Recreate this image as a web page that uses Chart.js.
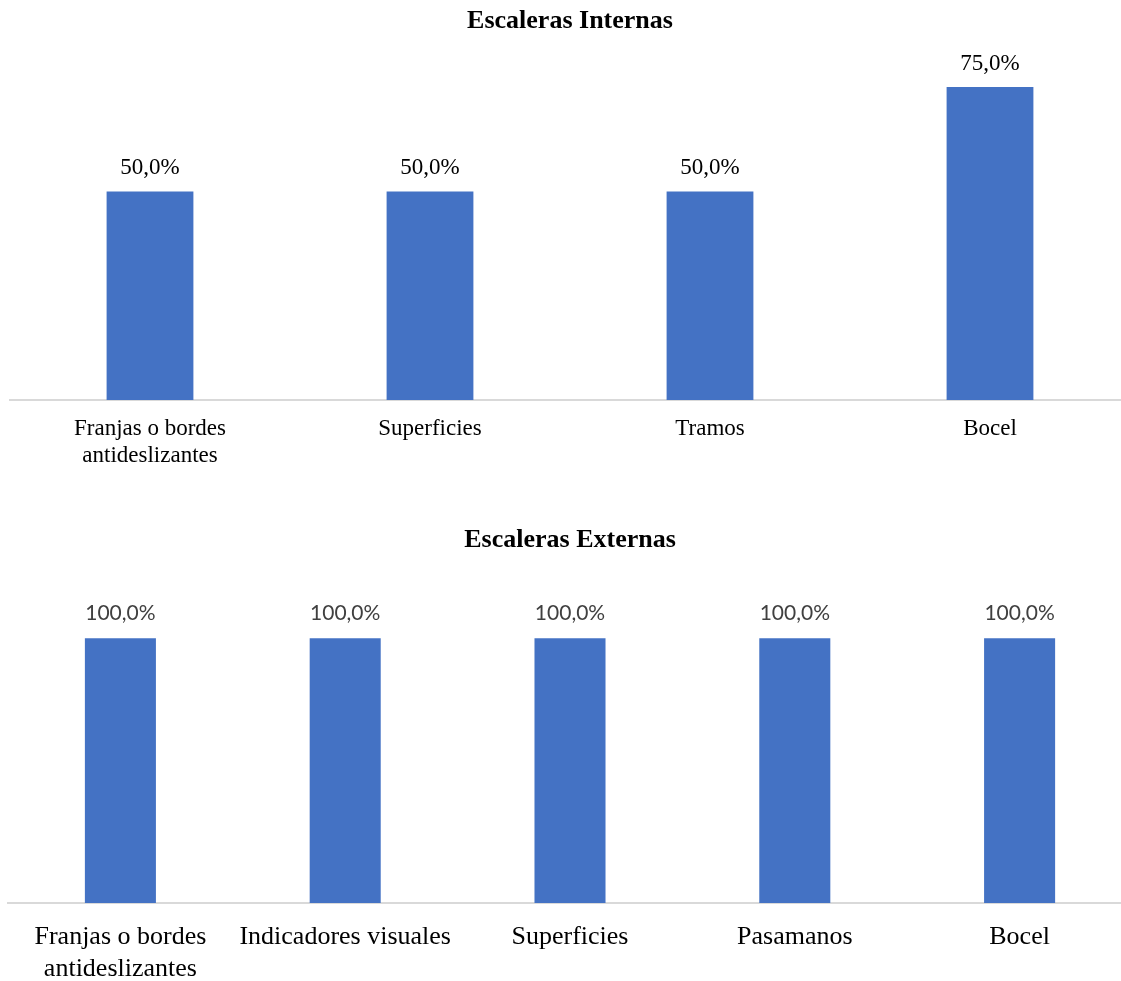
<!DOCTYPE html>
<html>
<head>
<meta charset="utf-8">
<script src="https://cdn.jsdelivr.net/npm/chart.js@4"></script>
<style>
  html, body { margin: 0; padding: 0; background: #fff; overflow: hidden; }
  #wrap { position: relative; width: 1121px; height: 981px; overflow: hidden; }
  canvas { position: absolute; left: 0; }
  #chartInternas { top: 0; }
  #chartExternas { top: 490px; }
</style>
</head>
<body>
<div id="wrap">
  <canvas id="chartInternas" width="1140" height="480"></canvas>
  <canvas id="chartExternas" width="1140" height="491"></canvas>
</div>
<script>
// Escaleras Internas
const internasLabels = [
    ['Franjas o bordes', 'antideslizantes'],
    'Superficies',
    'Tramos',
    'Bocel'
];
const internasValues = [50, 50, 50, 75];

// Escaleras Externas
const externasLabels = [
    ['Franjas o bordes', 'antideslizantes'],
    'Indicadores visuales',
    'Superficies',
    'Pasamanos',
    'Bocel'
];
const externasValues = [100, 100, 100, 100, 100];

const BAR_COLOR = '#4472c4';
const SERIF = '"Liberation Serif", "Times New Roman", serif';

// simple value labels above each bar
const barLabels = {
    id: 'barLabels',
    afterDatasetsDraw(chart, args, opts) {
        const ctx = chart.ctx;
        ctx.save();
        ctx.font = `${opts.size}px ${opts.family}`;
        ctx.fillStyle = opts.color;
        ctx.textAlign = 'center';
        ctx.textBaseline = 'middle';
        const meta = chart.getDatasetMeta(0);
        meta.data.forEach((bar, i) => {
            const v = chart.data.datasets[0].data[i];
            const txt = v.toFixed(1).replace('.', ',') + '%';
            ctx.fillText(txt, bar.x, bar.y - opts.offset);
        });
        ctx.restore();
    }
};

function makeChart(id, cfg) {
    const ctx = document.getElementById(id).getContext('2d');
    return new Chart(ctx, {
        type: 'bar',
        data: {
            labels: cfg.labels,
            datasets: [{
                data: cfg.values,
                backgroundColor: BAR_COLOR,
                borderWidth: 0,
                barPercentage: cfg.barPct,
                categoryPercentage: 1
            }]
        },
        options: {
            responsive: false,
            animation: false,
            devicePixelRatio: 1,
            layout: { padding: { left: cfg.padX, right: cfg.padX, top: 0, bottom: 0 } },
            plugins: {
                legend: { display: false },
                tooltip: { enabled: false },
                title: {
                    display: true,
                    text: cfg.title,
                    color: '#000',
                    font: { family: SERIF, size: 26, weight: 'bold', lineHeight: 1.2 },
                    padding: { top: cfg.titleTop, bottom: cfg.titleBottom }
                },
                barLabels: cfg.dataLabel
            },
            scales: {
                x: {
                    grid: { display: false, drawTicks: false },
                    border: { display: true, color: '#d9d9d9', width: 2 },
                    ticks: {
                        color: '#000',
                        padding: cfg.tickPad,
                        maxRotation: 0,
                        autoSkip: false,
                        font: { family: SERIF, size: cfg.tickSize, lineHeight: 1.2 }
                    },
                    afterFit(scale) { scale.height = cfg.axisHeight; }
                },
                y: {
                    display: false,
                    min: 0,
                    max: cfg.yMax
                }
            }
        },
        plugins: [barLabels]
    });
}

makeChart('chartInternas', {
    labels: internasLabels,
    values: internasValues,
    title: 'Escaleras Internas',
    barPct: 0.31,
    padX: 10,
    titleTop: 6,
    titleBottom: 29,
    tickSize: 23,
    tickPad: 15,
    axisHeight: 80,
    yMax: 80,
    dataLabel: { family: SERIF, size: 23, color: '#000', offset: 23 }
});

makeChart('chartExternas', {
    labels: externasLabels,
    values: externasValues,
    title: 'Escaleras Externas',
    barPct: 0.316,
    padX: 8,
    titleTop: 35,
    titleBottom: 29,
    tickSize: 26,
    tickPad: 19,
    axisHeight: 78,
    yMax: 120,
    dataLabel: { family: 'Lato, "Open Sans", sans-serif', size: 21, color: '#404040', offset: 25 }
});
</script>
</body>
</html>
